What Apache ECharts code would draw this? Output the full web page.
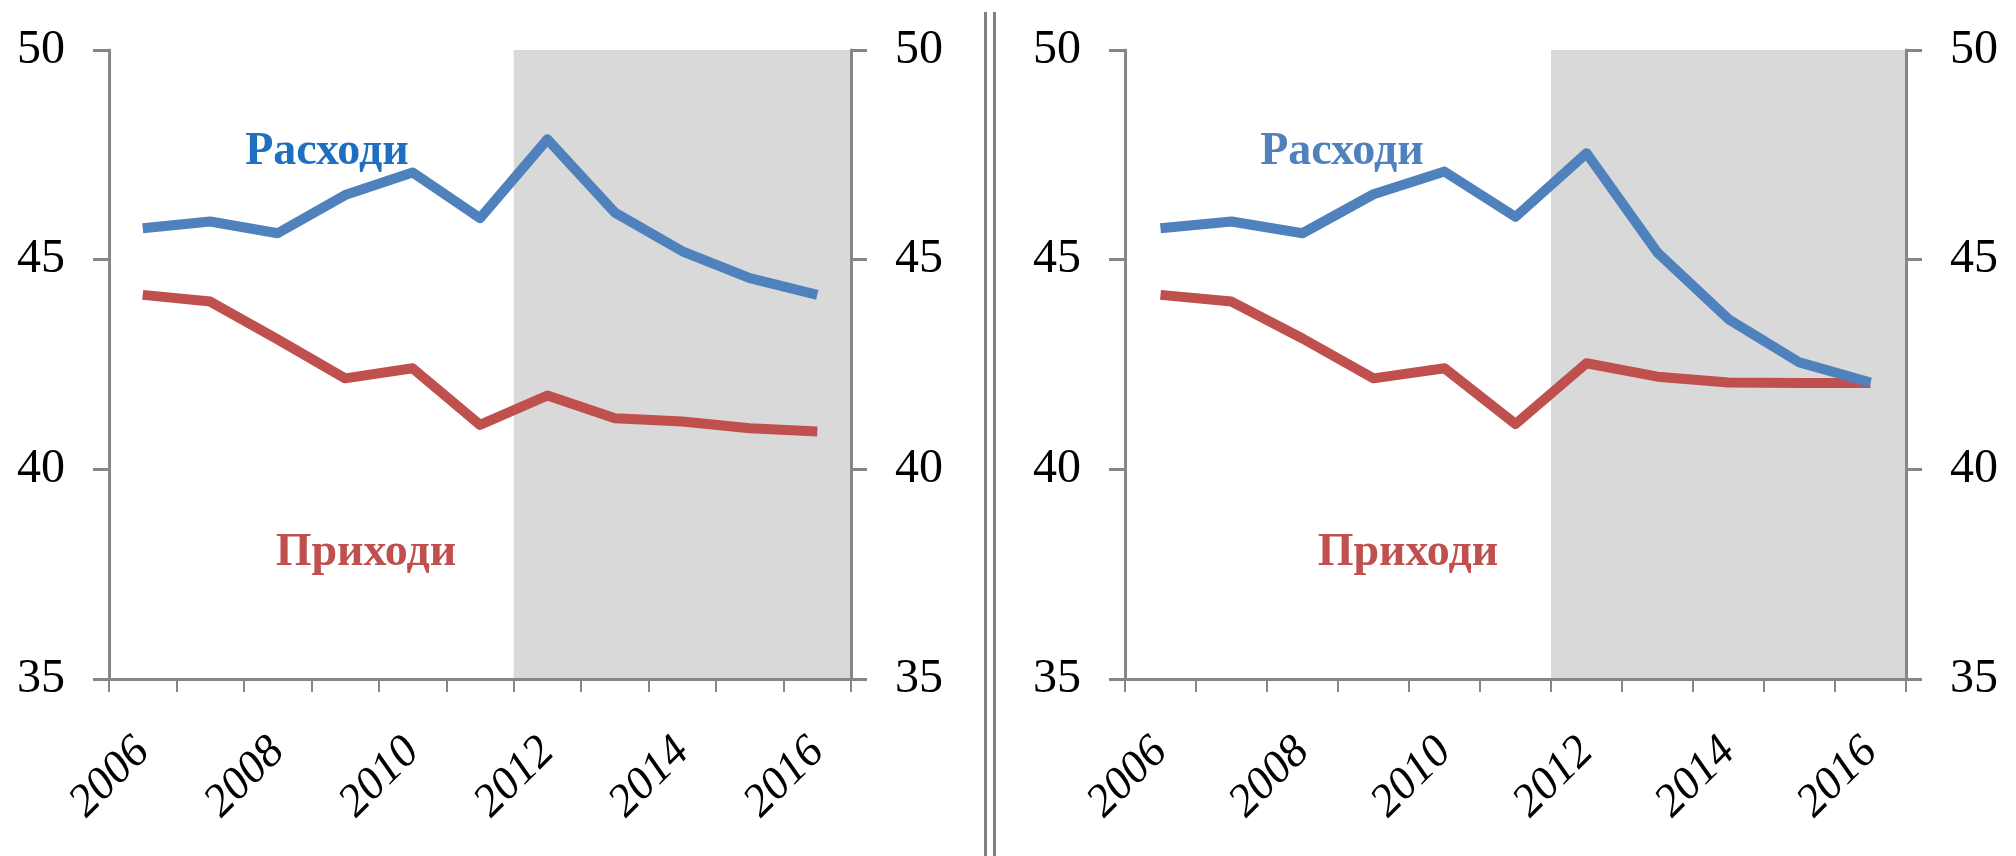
<!DOCTYPE html>
<html>
<head>
<meta charset="utf-8">
<script src="https://cdn.jsdelivr.net/npm/echarts@6/dist/echarts.min.js"></script>
<style>
    html, body { margin: 0; padding: 0; background: #fff; }
    #chart { width: 2016px; height: 856px; }
</style>
</head>
<body>
<div id="chart"></div>
<script>
// years on the x axis
var years = ['2006', '2007', '2008', '2009', '2010', '2011', '2012', '2013', '2014', '2015', '2016'];
var yTicks = [35, 40, 45, 50];

// left panel
var rashodiA = [45.75, 45.91, 45.63, 46.54, 47.08, 45.99, 47.87, 46.12, 45.2, 44.56, 44.16];
var prihodiA = [44.16, 44.0, 43.1, 42.17, 42.41, 41.06, 41.76, 41.22, 41.14, 40.98, 40.9];
// right panel
var rashodiB = [45.75, 45.91, 45.63, 46.56, 47.1, 46.02, 47.54, 45.17, 43.58, 42.55, 42.07];
var prihodiB = [44.16, 44.0, 43.12, 42.17, 42.41, 41.08, 42.53, 42.21, 42.07, 42.06, 42.06];

var shadeFrom = 6;   // band starts at the 2012 category edge
var shadeTo = 11;

var axisGray = '#868686';
var blue = '#4F81BD';
var red = '#C0504D';

var chart = echarts.init(document.getElementById('chart'));

function catAxis(grid) {
    return {
        type: 'category',
        gridIndex: grid,
        data: years,
        boundaryGap: true,
        z: 5,
        axisLine: { lineStyle: { color: axisGray, width: 3 } },
        axisTick: { show: true, interval: 0, length: 13, lineStyle: { color: axisGray, width: 2 } },
        axisLabel: {
            interval: 1,
            rotate: 45,
            margin: 66,
            fontFamily: 'Liberation Serif',
            fontStyle: 'italic',
            fontSize: 46,
            color: '#000'
        },
        splitLine: { show: false }
    };
}

function valAxis(grid, pos) {
    return {
        type: 'value',
        gridIndex: grid,
        position: pos,
        min: yTicks[0],
        max: yTicks[yTicks.length - 1],
        interval: 5,
        z: 5,
        axisLine: { show: true, lineStyle: { color: axisGray, width: 3 } },
        axisTick: { show: true, length: 16, lineStyle: { color: axisGray, width: 3 } },
        axisLabel: {
            margin: 44,
            fontFamily: 'Liberation Serif',
            fontSize: 48,
            color: '#000'
        },
        splitLine: { show: false }
    };
}

// hidden value axis so the grey band can start on a category edge
function bandAxis(grid) {
    return { type: 'value', gridIndex: grid, min: 0, max: years.length, show: false };
}

function lineSeries(xi, yi, data, color) {
    return {
        type: 'line',
        xAxisIndex: xi,
        yAxisIndex: yi,
        data: data,
        symbol: 'none',
        z: 3,
        lineStyle: { color: color, width: 10, cap: 'butt', join: 'round' }
    };
}

function bandSeries(xi, yi) {
    return {
        type: 'line',
        xAxisIndex: xi,
        yAxisIndex: yi,
        data: [[0, 35]],
        symbol: 'none',
        z: 1,
        silent: true,
        lineStyle: { opacity: 0 },
        markArea: {
            silent: true,
            itemStyle: { color: '#D9D9D9' },
            data: [[{ xAxis: shadeFrom, yAxis: 35 }, { xAxis: shadeTo, yAxis: 50 }]]
        }
    };
}

function label(text, x, y, color) {
    return {
        type: 'text',
        x: x,
        y: y,
        z: 10,
        style: {
            text: text,
            fill: color,
            font: 'bold 46px "Liberation Serif"',
            align: 'center',
            verticalAlign: 'middle'
        }
    };
}

var option = {
    backgroundColor: '#fff',
    animation: false,
    grid: [
        { left: 109, top: 50, width: 742, height: 629 },
        { left: 1125, top: 50, width: 781, height: 629 }
    ],
    xAxis: [catAxis(0), catAxis(1), bandAxis(0), bandAxis(1)],
    yAxis: [valAxis(0, 'left'), valAxis(0, 'right'), valAxis(1, 'left'), valAxis(1, 'right')],
    series: [
        bandSeries(2, 0),
        bandSeries(3, 2),
        lineSeries(0, 0, prihodiA, red),
        lineSeries(0, 0, rashodiA, blue),
        lineSeries(1, 2, prihodiB, red),
        lineSeries(1, 2, rashodiB, blue)
    ],
    graphic: [
        label('Расходи', 327, 152, '#1F6FC0'),
        label('Приходи', 366, 553, red),
        label('Расходи', 1342, 152, blue),
        label('Приходи', 1408, 553, red),
        { type: 'line', shape: { x1: 985.5, y1: 12, x2: 985.5, y2: 856 }, style: { stroke: '#808080', lineWidth: 3 } },
        { type: 'line', shape: { x1: 994.5, y1: 12, x2: 994.5, y2: 856 }, style: { stroke: '#808080', lineWidth: 3 } }
    ]
};

chart.setOption(option);
</script>
</body>
</html>
